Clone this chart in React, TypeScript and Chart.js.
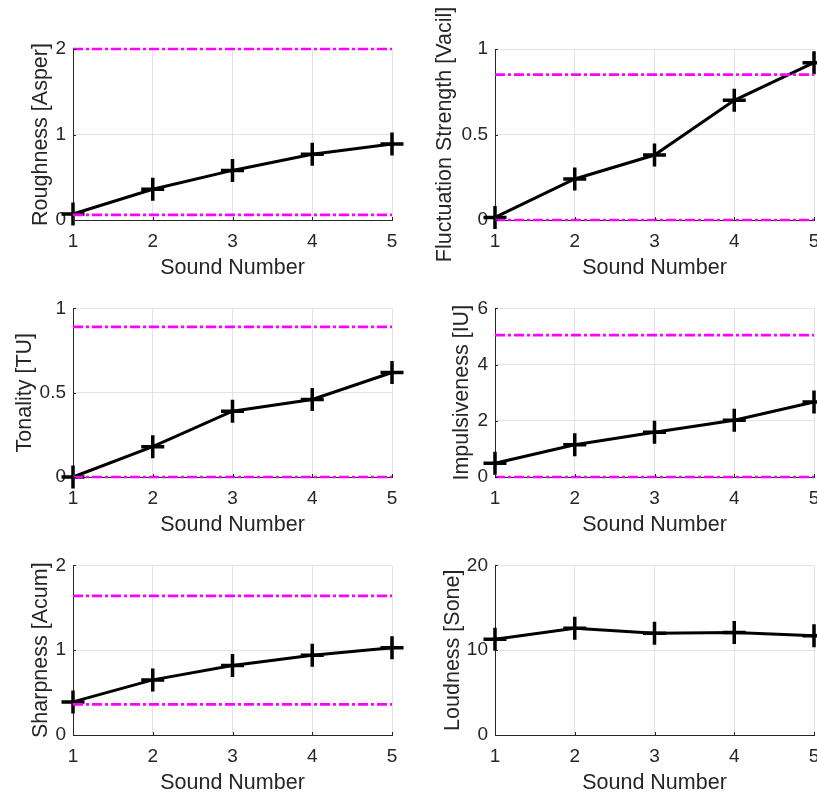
import React, { useEffect, useRef } from "react";
import { Chart, registerables } from "chart.js";
Chart.register(...registerables);

// ---- data ----
const soundNumbers = [1, 2, 3, 4, 5];

const roughness = [0.07, 0.36, 0.58, 0.77, 0.89];
const roughnessLimits = [0.06, 2.0];

const fluctuation = [0.015, 0.24, 0.38, 0.7, 0.92];
const fluctuationLimits = [0, 0.85];

const tonality = [0, 0.18, 0.39, 0.46, 0.62];
const tonalityLimits = [0, 0.89];

const impulsiveness = [0.49, 1.15, 1.59, 2.02, 2.67];
const impulsivenessLimits = [0, 5.05];

const sharpness = [0.39, 0.65, 0.82, 0.94, 1.03];
const sharpnessLimits = [0.36, 1.64];

const loudness = [11.3, 12.6, 12.0, 12.1, 11.7];
const loudnessLimits: number[] = [];

const xTitle = "Sound Number";

const panels = [
  { yLabel: "Roughness [Asper]", values: roughness, limits: roughnessLimits, yMax: 2, yStep: 1, col: 0, row: 0, titleCenter: 41.5 },
  { yLabel: "Fluctuation Strength [Vacil]", values: fluctuation, limits: fluctuationLimits, yMax: 1, yStep: 0.5, col: 1, row: 0, titleCenter: 35 },
  { yLabel: "Tonality [TU]", values: tonality, limits: tonalityLimits, yMax: 1, yStep: 0.5, col: 0, row: 1, titleCenter: 25 },
  { yLabel: "Impulsiveness [IU]", values: impulsiveness, limits: impulsivenessLimits, yMax: 6, yStep: 2, col: 1, row: 1, titleCenter: 52.5 },
  { yLabel: "Sharpness [Acum]", values: sharpness, limits: sharpnessLimits, yMax: 2, yStep: 1, col: 0, row: 2, titleCenter: 41.5 },
  { yLabel: "Loudness [Sone]", values: loudness, limits: loudnessLimits, yMax: 20, yStep: 10, col: 1, row: 2, titleCenter: 43.5 },
];

// ---- layout ----
// right column canvas extends past the window edge (clipped by the wrapper),
// so that its plot area reaches x = 814 like the reference.
const COLS = [
  { left: 0, width: 410, axisW: 73, padRight: 18 },
  { left: 410, width: 424, axisW: 85, padRight: 20 },
];
const ROWS = [
  { top: 0, padTop: 49, plotH: 171 },
  { top: 290, padTop: 16, plotH: 171 },
  { top: 547, padTop: 16, plotH: 172 },
];
const X_AXIS_H = 70;
const TEXT = "#262626";
const FONT = "'Liberation Sans', Arial, Helvetica, sans-serif";
const TICK_SIZE = 19;
const LABEL_SIZE = 21.5;

const inwardTicks = {
  id: "inwardTicks",
  afterDraw(chart: any) {
    const ctx = chart.ctx;
    const x = chart.scales.x;
    const y = chart.scales.y;
    const a = chart.chartArea;
    ctx.save();
    ctx.strokeStyle = TEXT;
    ctx.lineWidth = 1;
    ctx.beginPath();
    y.ticks.forEach((t: any) => {
      const py = Math.round(y.getPixelForValue(t.value)) + 0.5;
      ctx.moveTo(a.left, py);
      ctx.lineTo(a.left + 3, py);
    });
    x.ticks.forEach((t: any) => {
      const px = Math.round(x.getPixelForValue(t.value)) + 0.5;
      ctx.moveTo(px, a.bottom);
      ctx.lineTo(px, a.bottom - 3);
    });
    ctx.stroke();
    ctx.restore();
  },
};

function Panel({ p }: { p: (typeof panels)[number] }) {
  const ref = useRef<HTMLCanvasElement>(null);
  const col = COLS[p.col];
  const row = ROWS[p.row];
  const height = row.padTop + row.plotH + X_AXIS_H;

  useEffect(() => {
    if (!ref.current) return;
    const first = soundNumbers[0];
    const last = soundNumbers[soundNumbers.length - 1];
    const limitSets = p.limits.map((lim) => ({
      data: [
        { x: first, y: lim },
        { x: last, y: lim },
      ],
      borderColor: "#ff00ff",
      borderWidth: 2.7,
      borderDash: [10, 3, 3, 3],
      pointRadius: 0,
      fill: false,
      order: 0,
      clip: false as any,
    }));
    const chart = new Chart(ref.current, {
      type: "line",
      data: {
        datasets: [
          {
            data: soundNumbers.map((x, i) => ({ x, y: p.values[i] })),
            borderColor: "#000000",
            borderWidth: 3,
            pointStyle: "cross",
            pointRadius: 11.5,
            pointBorderWidth: 3.5,
            pointBorderColor: "#000000",
            pointBackgroundColor: "#000000",
            fill: false,
            tension: 0,
            order: 1,
            clip: false as any,
          },
          ...limitSets,
        ],
      },
      options: {
        animation: false,
        responsive: false,
        devicePixelRatio: 1,
        events: [],
        layout: { padding: { left: 0, top: row.padTop, right: col.padRight, bottom: 0 } },
        plugins: { legend: { display: false }, tooltip: { enabled: false } },
        scales: {
          x: {
            type: "linear",
            min: soundNumbers[0],
            max: soundNumbers[soundNumbers.length - 1],
            afterFit: (s: any) => {
              s.height = X_AXIS_H;
            },
            ticks: {
              stepSize: 1,
              padding: 10,
              color: TEXT,
              font: { family: FONT, size: TICK_SIZE },
              maxRotation: 0,
              callback: (v: any) => String(v),
            },
            grid: { color: "#e3e3e3", lineWidth: 1, drawTicks: false },
            border: { display: true, color: TEXT, width: 1 },
            title: {
              display: true,
              text: xTitle,
              color: TEXT,
              font: { family: FONT, size: LABEL_SIZE },
              padding: { top: 0, bottom: 22 - (LABEL_SIZE * 1.2) / 2 },
            },
          },
          y: {
            type: "linear",
            min: 0,
            max: p.yMax,
            afterFit: (s: any) => {
              s.width = col.axisW;
            },
            ticks: {
              stepSize: p.yStep,
              padding: 7,
              color: TEXT,
              font: { family: FONT, size: TICK_SIZE },
              callback: (v: any) => String(v),
            },
            grid: { color: "#e3e3e3", lineWidth: 1, drawTicks: false },
            border: { display: true, color: TEXT, width: 1 },
            title: {
              display: true,
              text: p.yLabel,
              color: TEXT,
              font: { family: FONT, size: LABEL_SIZE },
              padding: { top: p.titleCenter - (LABEL_SIZE * 1.2) / 2, bottom: 0 },
            },
          },
        },
      },
      plugins: [inwardTicks],
    });
    return () => chart.destroy();
  }, []);

  return (
    <canvas
      ref={ref}
      width={col.width}
      height={height}
      style={{ position: "absolute", left: col.left, top: row.top, width: col.width, height }}
    />
  );
}

export default function App() {
  return (
    <div
      style={{
        position: "absolute",
        left: 0,
        top: 0,
        width: 817,
        height: 797,
        overflow: "hidden",
        background: "#ffffff",
      }}
    >
      {panels.map((p, i) => (
        <Panel key={i} p={p} />
      ))}
    </div>
  );
}
